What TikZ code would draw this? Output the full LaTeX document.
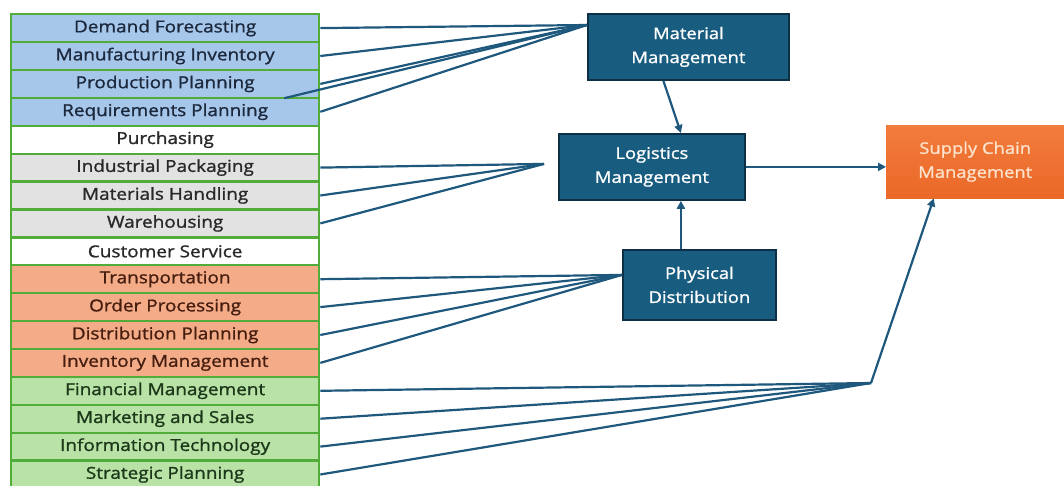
\documentclass[tikz,border=0pt]{standalone}
\usepackage{fontspec}
\setmainfont{Open Sans}[FakeStretch=1.15,FakeBold=1.2]
\usetikzlibrary{arrows.meta,calc}

\definecolor{rowline}{RGB}{82,172,58}
\definecolor{fillblue}{RGB}{166,198,234}
\definecolor{fillgray}{RGB}{226,226,226}
\definecolor{fillorange}{RGB}{244,172,136}
\definecolor{fillgreen}{RGB}{184,226,166}
\definecolor{txtblue}{RGB}{28,40,60}
\definecolor{txtgray}{RGB}{40,40,40}
\definecolor{txtorange}{RGB}{70,30,15}
\definecolor{txtgreen}{RGB}{28,55,25}
\definecolor{boxfill}{RGB}{24,92,128}
\definecolor{boxedge}{RGB}{14,48,70}
\definecolor{wire}{RGB}{30,88,124}
\definecolor{scmtop}{RGB}{242,124,60}
\definecolor{scmbot}{RGB}{234,104,40}
\definecolor{scmtext}{RGB}{253,226,204}

\tikzset{
  listrow/.style={draw=rowline, line width=2.3pt, minimum width=308pt,
    minimum height=27.9pt, inner sep=0pt, anchor=north west,
    font=\fontsize{16.5}{18}\selectfont},
  rowblue/.style={listrow, fill=fillblue, text=txtblue},
  rowwhite/.style={listrow, fill=white, text=txtgray},
  rowgray/.style={listrow, fill=fillgray, text=txtgray},
  roworange/.style={listrow, fill=fillorange, text=txtorange},
  rowgreen/.style={listrow, fill=fillgreen, text=txtgreen},
  mgmtbox/.style={draw=boxedge, line width=1.8pt, fill=boxfill, text=white,
    inner sep=0pt, anchor=north west, align=center,
    font=\fontsize{16}{24}\selectfont},
  scmbox/.style={top color=scmtop, bottom color=scmbot, draw=none,
    text=scmtext, inner sep=0pt, anchor=north west, align=center,
    font=\fontsize{16}{24}\selectfont},
  feed/.style={draw=wire, line width=2.2pt},
  flow/.style={draw=wire, line width=2.2pt, -{Triangle[length=8pt,width=8pt]}}
}

\begin{document}
\begin{tikzpicture}[x=1pt,y=-1pt]
\useasboundingbox (0,0) rectangle (1064,485);

% activity list
\foreach \i/\sty/\txt in {
  0/rowblue/Demand Forecasting,
  1/rowblue/Manufacturing Inventory,
  2/rowblue/Production Planning,
  3/rowblue/Requirements Planning,
  4/rowwhite/Purchasing,
  5/rowgray/Industrial Packaging,
  6/rowgray/Materials Handling,
  7/rowgray/Warehousing,
  8/rowwhite/Customer Service,
  9/roworange/Transportation,
  10/roworange/Order Processing,
  11/roworange/Distribution Planning,
  12/roworange/Inventory Management,
  13/rowgreen/Financial Management,
  14/rowgreen/Marketing and Sales,
  15/rowgreen/Information Technology,
  16/rowgreen/Strategic Planning}
  \node[\sty] (r\i) at (10,{13+27.9*\i}) {\txt};

% management boxes
\node[mgmtbox, minimum width=201pt, minimum height=66pt] (mat) at (587,13)
  {Material\\Management};
\node[mgmtbox, minimum width=186pt, minimum height=66pt] (lg) at (558,133)
  {Logistics\\Management};
\node[mgmtbox, minimum width=153pt, minimum height=70pt] (pd) at (622,249)
  {Physical\\Distribution};
\node[scmbox, minimum width=178pt, minimum height=73pt] (sc) at (886,125)
  {Supply Chain\\Management};

% convergence points
\coordinate (matin) at ([yshift=-12pt]mat.north west);
\coordinate (lgin) at ([xshift=-14pt,yshift=3pt]lg.west);
\coordinate (pdin) at ([yshift=10pt]pd.west);
\coordinate (scin) at (871,383);
\coordinate (ppin) at ([xshift=-36pt,yshift=-1.5pt]r3.north east);

% feeds into material management
\foreach \r in {r0,r1,r2,r3}
  \draw[feed] (\r.east) -- (matin);
\draw[feed] (ppin) -- (matin);

% feeds into logistics management
\foreach \r in {r5,r6,r7}
  \draw[feed] (\r.east) -- (lgin);

% feeds into physical distribution
\foreach \r in {r9,r10,r11,r12}
  \draw[feed] (\r.east) -- (pdin);

% feeds into supply chain management
\foreach \r in {r13,r14,r15,r16}
  \draw[feed] (\r.east) -- (scin);

% flows between management levels
\draw[flow] ([xshift=-25pt]mat.south) -- ([xshift=29pt]lg.north);
\draw[flow] ([xshift=-18.5pt]pd.north) -- ([xshift=29pt]lg.south);
\draw[flow] (lg.east) -- (lg.east -| sc.west);
\draw[flow] (scin) -- ([xshift=-41.5pt]sc.south);
\end{tikzpicture}
\end{document}
